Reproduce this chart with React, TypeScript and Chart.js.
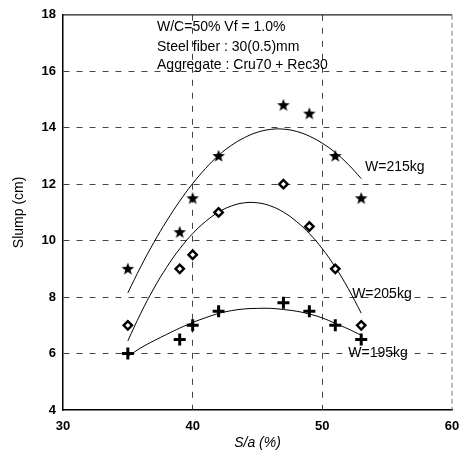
import React, { useEffect, useRef } from "react";
import { Chart, registerables } from "chart.js";

Chart.register(...registerables);

// Measured points: S/a (%) vs slump (cm)
const saPoints = [35, 39, 40, 42, 47, 49, 51, 53];
const slumpW215 = [9.0, 10.3, 11.5, 13.0, 14.8, 14.5, 13.0, 11.5];
const slumpW205 = [7.0, 9.0, 9.5, 11.0, 12.0, 10.5, 9.0, 7.0];
const slumpW195 = [6.0, 6.5, 7.0, 7.5, 7.8, 7.5, 7.0, 6.5];

// Fitted curves
const curveSa = [35, 36, 37, 38, 39, 40, 41, 42, 43, 44, 45, 46, 47, 48, 49, 50, 51, 52, 53];
const fitW215 = [8.15, 9.08, 9.93, 10.7, 11.4, 12.02, 12.56, 13.02, 13.38, 13.65, 13.84, 13.94, 13.95, 13.87, 13.7, 13.45, 13.12, 12.7, 12.2];
const fitW205 = [6.45, 7.43, 8.3, 9.06, 9.71, 10.25, 10.68, 11.01, 11.23, 11.34, 11.34, 11.23, 11.01, 10.68, 10.25, 9.71, 9.06, 8.3, 7.43];
const fitW195 = [5.9, 6.2, 6.45, 6.68, 6.9, 7.1, 7.27, 7.42, 7.52, 7.58, 7.6, 7.6, 7.56, 7.5, 7.4, 7.26, 7.07, 6.87, 6.65];

const xTicks = [30, 40, 50, 60];
const yTicks = [4, 6, 8, 10, 12, 14, 16, 18];

const seriesLabels = ["W=215kg", "W=205kg", "W=195kg"];
const noteLines = ["W/C=50% Vf = 1.0%", "Steel fiber : 30(0.5)mm", "Aggregate : Cru70 + Rec30"];
const xTitle = "S/a (%)";
const yTitle = "Slump (cm)";

const FONT = '"Liberation Sans", Arial, sans-serif';

function makeStar(): HTMLCanvasElement {
  const c = document.createElement("canvas");
  c.width = 14;
  c.height = 14;
  const g = c.getContext("2d")!;
  const cx = 7, cy = 7.3, R = 6.6, r = 2.8;
  g.beginPath();
  for (let i = 0; i < 10; i++) {
    const rad = i % 2 === 0 ? R : r;
    const a = -Math.PI / 2 + (i * Math.PI) / 5;
    const px = cx + rad * Math.cos(a);
    const py = cy + rad * Math.sin(a);
    if (i === 0) g.moveTo(px, py);
    else g.lineTo(px, py);
  }
  g.closePath();
  g.fillStyle = "#000";
  g.fill();
  return c;
}

const zip = (xs: number[], ys: number[]) => xs.map((x, i) => ({ x, y: ys[i] }));

export default function App() {
  const ref = useRef<HTMLCanvasElement | null>(null);

  useEffect(() => {
    if (!ref.current) return;
    const star = makeStar();

    const annotations = {
      id: "annotations",
      afterDatasetsDraw(chart: any) {
        const ctx = chart.ctx;
        const xs = chart.scales.x;
        const ys = chart.scales.y;
        const ca = chart.chartArea;
        ctx.save();
        // top & right frame
        ctx.strokeStyle = "#222";
        ctx.lineWidth = 1.2;
        ctx.beginPath();
        ctx.moveTo(ca.left, ca.top);
        ctx.lineTo(ca.right, ca.top);
        ctx.stroke();
        ctx.strokeStyle = "#777";
        ctx.lineWidth = 1;
        ctx.setLineDash([5, 3]);
        ctx.beginPath();
        ctx.moveTo(ca.right, ca.top);
        ctx.lineTo(ca.right, ca.bottom);
        ctx.stroke();
        ctx.setLineDash([]);

        ctx.fillStyle = "#000";
        ctx.font = `14px ${FONT}`;
        ctx.textBaseline = "middle";
        ctx.textAlign = "left";
        const noteX = xs.getPixelForValue(37.25);
        const noteYs = [17.55, 16.85, 16.22];
        noteLines.forEach((t, i) => ctx.fillText(t, noteX, ys.getPixelForValue(noteYs[i])));

        const labelPos = [
          [53.3, 12.6],
          [52.3, 8.12],
          [52.0, 6.0],
        ];
        seriesLabels.forEach((t, i) => {
          ctx.fillText(t, xs.getPixelForValue(labelPos[i][0]), ys.getPixelForValue(labelPos[i][1]));
        });
        ctx.restore();
      },
    };

    const gridColor = (edges: number[]) => (c: any) =>
      c.tick && edges.includes(c.tick.value) ? "rgba(0,0,0,0)" : "#444";

    const fitStyle = {
      showLine: true,
      pointRadius: 0,
      borderColor: "#000",
      borderWidth: 1,
      tension: 0.4,
    };

    const chart = new Chart(ref.current, {
      type: "scatter",
      data: {
        datasets: [
          {
            label: seriesLabels[0],
            data: zip(saPoints, slumpW215),
            pointStyle: star as any,
            pointRadius: 7,
            showLine: false,
          },
          {
            label: seriesLabels[1],
            data: zip(saPoints, slumpW205),
            pointStyle: "rectRot",
            pointRadius: 4.2,
            pointBorderWidth: 2.4,
            pointBackgroundColor: "#fff",
            pointBorderColor: "#000",
            showLine: false,
          },
          {
            label: seriesLabels[2],
            data: zip(saPoints, slumpW195),
            pointStyle: "cross",
            pointRadius: 6,
            pointBorderWidth: 3,
            pointBorderColor: "#000",
            showLine: false,
          },
          { label: seriesLabels[0] + " fit", data: zip(curveSa, fitW215), ...fitStyle },
          { label: seriesLabels[1] + " fit", data: zip(curveSa, fitW205), ...fitStyle },
          { label: seriesLabels[2] + " fit", data: zip(curveSa, fitW195), ...fitStyle },
        ],
      },
      options: {
        responsive: false,
        animation: false,
        events: [],
        layout: { padding: { left: 0, top: 10, right: 19, bottom: 0 } },
        plugins: { legend: { display: false }, tooltip: { enabled: false } },
        scales: {
          x: {
            type: "linear",
            min: xTicks[0],
            max: xTicks[xTicks.length - 1],
            afterBuildTicks: (s: any) => {
              s.ticks = xTicks.map((v) => ({ value: v }));
            },
            afterFit: (s: any) => {
              s.height = 45;
            },
            ticks: {
              padding: 9,
              color: "#000",
              font: { family: FONT, size: 13, weight: "bold" },
              maxRotation: 0,
            },
            grid: { color: gridColor([30, 60]), lineWidth: 1, drawTicks: false },
            border: { display: true, color: "#000", width: 1.5, dash: [6, 7] },
            title: {
              display: true,
              text: xTitle,
              color: "#000",
              font: { family: FONT, size: 14, style: "italic" },
              padding: { top: 0, bottom: 3 },
            },
          },
          y: {
            type: "linear",
            min: yTicks[0],
            max: yTicks[yTicks.length - 1],
            afterBuildTicks: (s: any) => {
              s.ticks = yTicks.map((v) => ({ value: v }));
            },
            afterFit: (s: any) => {
              s.width = 63;
            },
            ticks: {
              padding: 7,
              color: "#000",
              font: { family: FONT, size: 13, weight: "bold" },
            },
            grid: { color: gridColor([4, 18]), lineWidth: 1, drawTicks: false },
            border: { display: true, color: "#000", width: 1.5, dash: [6, 7] },
            title: {
              display: true,
              text: yTitle,
              color: "#000",
              font: { family: FONT, size: 14 },
              padding: { top: 11, bottom: 0 },
            },
          },
        },
      },
      plugins: [annotations],
    } as any);

    return () => chart.destroy();
  }, []);

  return (
    <div style={{ position: "absolute", left: 0, top: 0, width: 471, height: 455, background: "#fff" }}>
      <canvas ref={ref} width={471} height={455} style={{ width: 471, height: 455, display: "block" }} />
    </div>
  );
}
